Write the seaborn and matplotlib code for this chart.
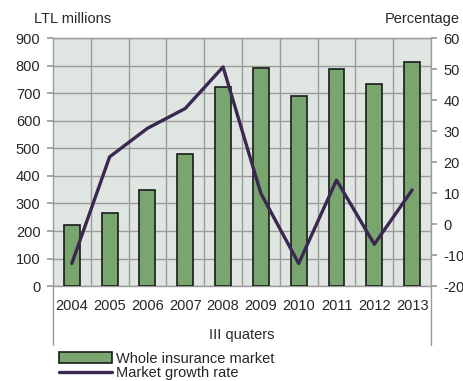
import numpy as np
import pandas as pd
import matplotlib
matplotlib.use("Agg")
import matplotlib.pyplot as plt
import seaborn as sns
from matplotlib.patches import Patch
from matplotlib.lines import Line2D

sns.set_theme(style="white")
plt.rcParams['font.family'] = ['Liberation Sans', 'DejaVu Sans']
plt.rcParams['axes.unicode_minus'] = False

# data
years = ["2004", "2005", "2006", "2007", "2008", "2009", "2010", "2011", "2012", "2013"]
market = [221, 267, 348, 478, 723, 790, 689, 787, 734, 814]
growth = [-12.7, 21.7, 30.9, 37.3, 50.7, 9.9, -12.7, 14.2, -6.5, 11.0]

df = pd.DataFrame({"Year": years, "Market": market, "Growth": growth})
df["pos"] = np.arange(len(df))

bar_col = "#78a66e"
line_col = "#3b2852"
grid_col = "#9a9a9a"
bg_col = "#dfe6e2"

fig = plt.figure(figsize=(4.64, 3.81), dpi=100)
ax = fig.add_axes([0.114, 0.249, 0.815, 0.651])
ax.set_facecolor(bg_col)

sns.barplot(data=df, x="Year", y="Market", color=bar_col, width=0.42,
            edgecolor="#1a1a1a", linewidth=1.2, saturation=1, ax=ax, zorder=3)
ax.set_ylim(0, 900)
ax.set_xlim(-0.5, len(years) - 0.5)
ax.set_yticks(range(0, 901, 100))
ax.set_xticks(np.arange(len(years)) + 0.5, minor=True)
ax.grid(True, which="major", axis="y", color=grid_col, lw=1, zorder=0)
ax.grid(True, which="minor", axis="x", color=grid_col, lw=1, zorder=0)
ax.set_axisbelow(True)
ax.set_xlabel("")
ax.set_ylabel("")
ax.tick_params(axis="y", which="major", length=4, color=grid_col, labelsize=10.5, pad=5)
ax.tick_params(axis="x", which="major", length=0, labelsize=10.5, pad=9)
ax.tick_params(axis="x", which="minor", length=21, width=1, color=grid_col, direction="out")
for s in ax.spines.values():
    s.set_color(grid_col)
    s.set_linewidth(1)

# outer category separators
for xa in (0, 1):
    ax.plot([xa, xa], [0, -0.238], transform=ax.transAxes, color=grid_col,
            lw=1, clip_on=False)

ax.text(0.5, -0.198, "III quaters", transform=ax.transAxes, ha="center",
        va="center", fontsize=10.5)
ax.text(-0.05, 1.075, "LTL millions", transform=ax.transAxes, ha="left",
        va="center", fontsize=10.5)

ax2 = ax.twinx()
sns.lineplot(data=df, x="pos", y="Growth", color=line_col, lw=2.4, ax=ax2, zorder=4)
ax2.set_ylim(-20, 60)
ax2.set_yticks(range(-20, 61, 10))
ax2.set_ylabel("")
ax2.tick_params(axis="y", length=4, color=grid_col, labelsize=10.5, pad=5)
for s in ax2.spines.values():
    s.set_visible(False)
ax2.text(1.075, 1.075, "Percentage", transform=ax2.transAxes, ha="right",
         va="center", fontsize=10.5)

handles = [Patch(facecolor=bar_col, edgecolor="#1a1a1a", lw=1.2),
           Line2D([0], [0], color=line_col, lw=2.4)]
fig.legend(handles, ["Whole insurance market", "Market growth rate"],
           loc="upper left", bbox_to_anchor=(0.112, 0.096), frameon=False,
           fontsize=10.5, handlelength=3.6, handleheight=0.8,
           handletextpad=0.3, labelspacing=0.05, borderpad=0)

fig.savefig("out.png", dpi=100)
